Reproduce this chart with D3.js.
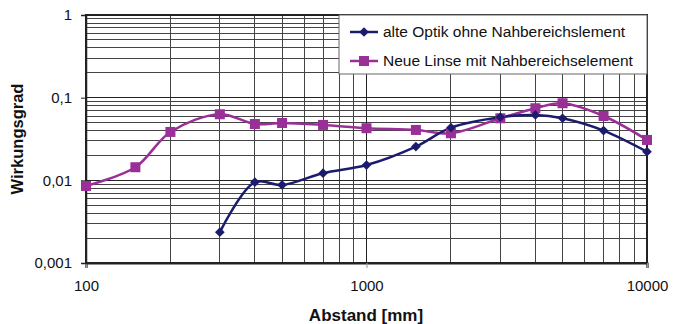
<!DOCTYPE html>
<html><head><meta charset="utf-8">
<script src="https://cdn.jsdelivr.net/npm/d3@7"></script>
<style>
body{margin:0;background:#fff;}
text{font-family:"Liberation Sans",Arial,sans-serif;fill:#111;}
</style></head>
<body>
<svg id="c" width="675" height="324"></svg>
<script>
const seriesNames = ["alte Optik ohne Nahbereichslement", "Neue Linse mit Nahbereichselement"];
const altX = [300, 400, 500, 700, 1000, 1500, 2000, 3000, 4000, 5000, 7000, 10000];
const altY = [0.00236, 0.0095, 0.0088, 0.0122, 0.0153, 0.0256, 0.0434, 0.058, 0.0618, 0.0564, 0.040, 0.0222];
const neuX = [100, 150, 200, 300, 400, 500, 700, 1000, 1500, 2000, 3000, 4000, 5000, 7000, 10000];
const neuY = [0.00855, 0.0144, 0.0385, 0.063, 0.048, 0.0494, 0.0468, 0.0427, 0.0407, 0.0371, 0.0563, 0.0745, 0.0856, 0.060, 0.0308];
const xTicks = [100, 1000, 10000];
const xTickLabels = ["100", "1000", "10000"];
const yTicks = [1, 0.1, 0.01, 0.001];
const yTickLabels = ["1", "0,1", "0,01", "0,001"];
const xTitle = "Abstand [mm]";
const yTitle = "Wirkungsgrad";
const colors = ["#1c1c6e", "#9a2f98"];

const svg = d3.select("#c");
const L = 86, R = 647, T = 15, B = 263;
const x = d3.scaleLog().domain([100, 10000]).range([L, R]);
const y = d3.scaleLog().domain([0.001, 1]).range([B, T]);

// grid
const g = svg.append("g").attr("shape-rendering", "crispEdges");
const xMinor = [], yMinor = [];
for (let d = 100; d < 10000; d *= 10) for (let k = 2; k <= 9; k++) xMinor.push(d * k);
for (let d = 0.001; d < 0.9; d *= 10) for (let k = 2; k <= 9; k++) yMinor.push(d * k);
g.selectAll(".xm").data(xMinor).join("line")
  .attr("x1", d => x(d)).attr("x2", d => x(d)).attr("y1", T).attr("y2", B)
  .attr("stroke", "#444").attr("stroke-width", 1);
g.selectAll(".ym").data(yMinor).join("line")
  .attr("y1", d => y(d)).attr("y2", d => y(d)).attr("x1", L).attr("x2", R)
  .attr("stroke", "#444").attr("stroke-width", 1);
g.selectAll(".xM").data(xTicks).join("line")
  .attr("x1", d => x(d)).attr("x2", d => x(d)).attr("y1", T).attr("y2", B)
  .attr("stroke", "#222");
g.selectAll(".yM").data(yTicks).join("line")
  .attr("y1", d => y(d)).attr("y2", d => y(d)).attr("x1", L).attr("x2", R)
  .attr("stroke", "#222");
g.append("rect").attr("x", L).attr("y", T).attr("width", R - L).attr("height", B - T)
  .attr("fill", "none").attr("stroke", "#222").attr("stroke-width", 1.5);

// axes
const xAxis = d3.axisBottom(x).tickValues(xTicks).tickFormat((d, i) => xTickLabels[i]).tickSize(5).tickPadding(12);
const ax = svg.append("g").attr("transform", `translate(0,${B})`).call(xAxis);
ax.select(".domain").attr("stroke", "#222").attr("stroke-width", 2.2);
ax.selectAll(".tick line").attr("stroke", "#999");
ax.selectAll("text").attr("font-size", 15).attr("font-family", "Liberation Sans, Arial").attr("fill", "#111");

const yAxis = d3.axisLeft(y).tickValues(yTicks).tickFormat((d, i) => yTickLabels[i]).tickSize(5).tickPadding(9);
const ay = svg.append("g").attr("transform", `translate(${L},0)`).call(yAxis);
ay.select(".domain").attr("stroke", "#222").attr("stroke-width", 1.5);
ay.selectAll(".tick line").attr("stroke", "#222");
ay.selectAll("text").attr("font-size", 15).attr("font-family", "Liberation Sans, Arial").attr("fill", "#111");

svg.append("text").attr("x", 366).attr("y", 321).attr("text-anchor", "middle")
  .attr("font-size", 17).attr("font-weight", "bold").text(xTitle);
svg.append("text").attr("transform", "translate(23,139) rotate(-90)").attr("text-anchor", "middle")
  .attr("font-size", 16.5).attr("font-weight", "bold").text(yTitle);

// lines
const line = d3.line().x(d => x(d[0])).y(d => y(d[1])).curve(d3.curveCatmullRom.alpha(0.5));
const altData = altX.map((v, i) => [v, altY[i]]);
const neuData = neuX.map((v, i) => [v, neuY[i]]);

svg.append("path").datum(neuData).attr("d", line).attr("fill", "none").attr("stroke", colors[1]).attr("stroke-width", 2.5);
svg.append("path").datum(altData).attr("d", line).attr("fill", "none").attr("stroke", colors[0]).attr("stroke-width", 2.5);

svg.selectAll(".sq").data(neuData).join("rect")
  .attr("x", d => x(d[0]) - 5).attr("y", d => y(d[1]) - 5).attr("width", 10).attr("height", 10)
  .attr("fill", colors[1]);
const diamond = d3.symbol().type(d3.symbolDiamond2).size(60);
svg.selectAll(".dm").data(altData).join("path")
  .attr("d", diamond).attr("transform", d => `translate(${x(d[0])},${y(d[1])})`)
  .attr("fill", colors[0]);

// legend
const lg = svg.append("g");
lg.append("rect").attr("x", 339).attr("y", T).attr("width", R - 339).attr("height", 59)
  .attr("fill", "#fff").attr("stroke", "#666").attr("stroke-width", 1);
[32, 61].forEach((yy, i) => {
  lg.append("line").attr("x1", 350).attr("x2", 378).attr("y1", yy).attr("y2", yy)
    .attr("stroke", colors[i]).attr("stroke-width", 2.5);
  if (i === 0) {
    lg.append("path").attr("d", diamond).attr("transform", `translate(364,${yy})`).attr("fill", colors[0]);
  } else {
    lg.append("rect").attr("x", 359).attr("y", yy - 5).attr("width", 10).attr("height", 10).attr("fill", colors[1]);
  }
  lg.append("text").attr("x", 383).attr("y", yy + 5).attr("font-size", 15.5).text(seriesNames[i]);
});
</script>
</body></html>
